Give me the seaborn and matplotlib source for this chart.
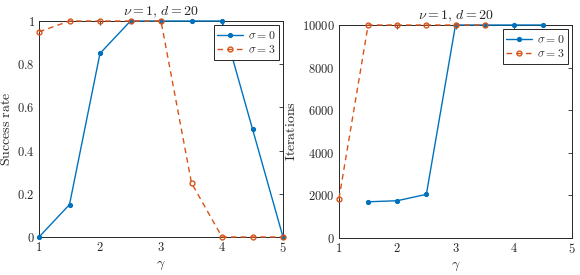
import numpy as np
import pandas as pd
import seaborn as sns
import matplotlib
matplotlib.use("Agg")
import matplotlib.pyplot as plt
from matplotlib.ticker import FuncFormatter

# data
gamma = [1, 1.5, 2, 2.5, 3, 3.5, 4, 4.5, 5]
success_s0 = [0, 0.15, 0.85, 1, 1, 1, 1, 0.5, 0]
success_s3 = [0.95, 1, 1, 1, 1, 0.25, 0, 0, 0]
iter_s0 = [np.nan, 1700, 1750, 2050, 10000, 10000, 10000, 10000, np.nan]
iter_s3 = [1850, 10000, 10000, 10000, 10000, 10000, np.nan, np.nan, np.nan]

blue = "#0072BD"
orange = "#D95319"

sns.set_style("white")
plt.rcParams["mathtext.fontset"] = "cm"
plt.rcParams["font.family"] = ["DejaVu Serif"]

fig, axes = plt.subplots(1, 2, figsize=(5.8, 2.75), dpi=100)

def mt(v, pos):
    return "$%g$" % v

def draw(ax, y0, y3, ylabel, ylim, yticks):
    d0 = pd.DataFrame({"g": gamma, "v": y0}).dropna()
    d3 = pd.DataFrame({"g": gamma, "v": y3}).dropna()
    sns.lineplot(x=d0["g"], y=d0["v"], ax=ax, color=blue, lw=1.0, marker="o", ms=3,
                 mec=blue, mfc=blue, label=r"$\sigma = 0$", clip_on=False, zorder=3)
    sns.lineplot(x=d3["g"], y=d3["v"], ax=ax, color=orange, lw=1.0, ls=(0, (4, 3)), marker="o",
                 ms=3.5, mec=orange, mfc="none", mew=1.0, label=r"$\sigma = 3$",
                 clip_on=False, zorder=4)
    ax.set_xlim(1, 5)
    ax.set_ylim(*ylim)
    ax.set_xticks([1, 2, 3, 4, 5])
    ax.set_yticks(yticks)
    ax.xaxis.set_major_formatter(FuncFormatter(mt))
    ax.yaxis.set_major_formatter(FuncFormatter(mt))
    ax.tick_params(direction="in", length=3, width=0.6, top=True, right=True,
                   labelsize=9, colors="#262626", pad=3)
    for s in ax.spines.values():
        s.set_color("#262626")
        s.set_linewidth(0.7)
        s.set_zorder(2)
    ax.set_xlabel(r"$\gamma$", fontsize=10, labelpad=2)
    ax.set_ylabel(r"$\mathrm{%s}$" % ylabel.replace(" ", r"\ "), fontsize=10, labelpad=3)
    ax.set_title(r"$\nu = 1,\, d = 20$", fontsize=10, pad=4)
    leg = ax.legend(loc="upper right", fontsize=8.5, frameon=True, fancybox=False,
                    borderpad=0.3, handlelength=2.2, handletextpad=0.4,
                    labelspacing=0.15, borderaxespad=0.35, framealpha=1)
    leg.get_frame().set_edgecolor("#262626")
    leg.get_frame().set_linewidth(0.7)

draw(axes[0], success_s0, success_s3, "Success rate", (0, 1), [0, 0.2, 0.4, 0.6, 0.8, 1])
draw(axes[1], iter_s0, iter_s3, "Iterations", (0, 10000), [0, 2000, 4000, 6000, 8000, 10000])

axes[0].set_position([39 / 580, 1 - 237 / 275, 244 / 580, 216 / 275])
axes[1].set_position([339 / 580, 1 - 238 / 275, 233 / 580, 213 / 275])
fig.savefig("out.png", dpi=100)
